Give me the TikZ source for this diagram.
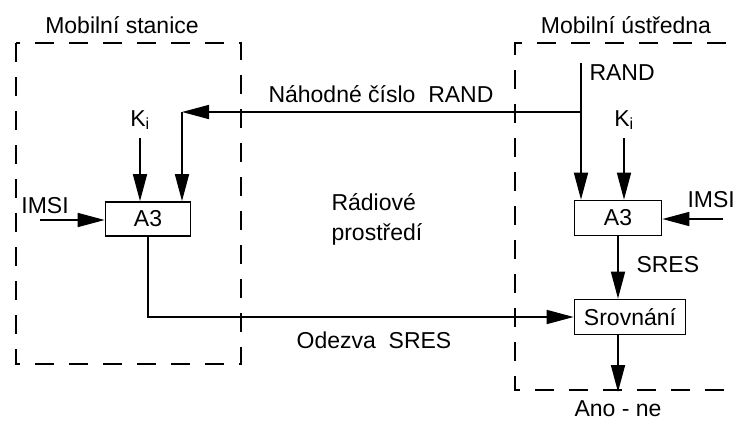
\documentclass[tikz,border=0pt]{standalone}
\usepackage{fontspec}
\setmainfont{Liberation Sans}
\usetikzlibrary{arrows.meta,positioning,calc}

\begin{document}
\begin{tikzpicture}[x=1pt, y=-1pt,
    font=\fontsize{23}{30}\selectfont,
    block/.style={rectangle, draw, line width=1.7pt, inner sep=0pt},
    zone/.style={line width=1.7pt, dash pattern=on 19pt off 15pt},
    arrow/.style={-{Triangle[length=27pt, width=14pt]}, line width=1.7pt}
]
    \useasboundingbox (0,0) rectangle (736,423);
    \clip (0,0) rectangle (736,423);

    % dashed zones
    \draw[zone] (16,43) rectangle (241,364);
    \draw[zone] (760,43) -- (515,43) -- (515,390) -- (760,390);
    \node (msTitle) at (122,25) {Mobilní stanice};
    \node (mscTitle) at (626,25) {Mobilní ústředna};
    \node[align=left, anchor=north west] (radio) at (328,190) {Rádiové\\prostředí};

    % blocks
    \node[block, minimum width=85pt, minimum height=34pt] (a3ms) at (148,219) {A3};
    \node[block, minimum width=87pt, minimum height=35pt] (a3msc) at (618,218) {A3};
    \node[block, minimum width=111pt, minimum height=35pt] (cmp) at (630,317) {Srovnání};

    % inputs
    \coordinate (imsi1) at (40,220);
    \coordinate (imsi2) at (723,219);
    \coordinate (ki1) at (140,138);
    \coordinate (ki2) at (624,138);
    \coordinate (randTop) at (581,63);
    \coordinate (randJoin) at (581,112);
    \coordinate (randCorner) at (182,112);
    \coordinate (res) at (618,392);

    \node (imsiL1) at (45,206) {IMSI};
    \node[anchor=east, inner xsep=1pt] (imsiL2) at (736,200) {IMSI};
    \node (kiL1) at (140,120) {K\textsubscript{i}};
    \node (kiL2) at (624,120) {K\textsubscript{i}};
    \node[anchor=west] (randL) at (586,73) {RAND};
    \node (randLbl) at (381,94) {Náhodné číslo\ \ RAND};
    \node[anchor=west] (sresL) at (633,265) {SRES};
    \node (odezva) at (374,340) {Odezva\ \ SRES};
    \node (anone) at (618,409) {Ano - ne};

    \draw[arrow] (imsi1) -- (a3ms.west |- imsi1);
    \draw[arrow] (imsi2) -- (a3msc.east |- imsi2);
    \draw[arrow] (ki1) -- (ki1 |- a3ms.north);
    \draw[arrow] (ki2) -- (ki2 |- a3msc.north);
    \draw[arrow] (randTop) -- (randTop |- a3msc.north);
    \draw[arrow] (randJoin) -- (randCorner);
    \draw[arrow] (randCorner) -- (randCorner |- a3ms.north);
    \draw[arrow] (a3ms.south) |- (cmp.west);
    \draw[arrow] (a3msc.south) -- (a3msc.south |- cmp.north);
    \draw[arrow] (res |- cmp.south) -- (res);
\end{tikzpicture}
\end{document}
